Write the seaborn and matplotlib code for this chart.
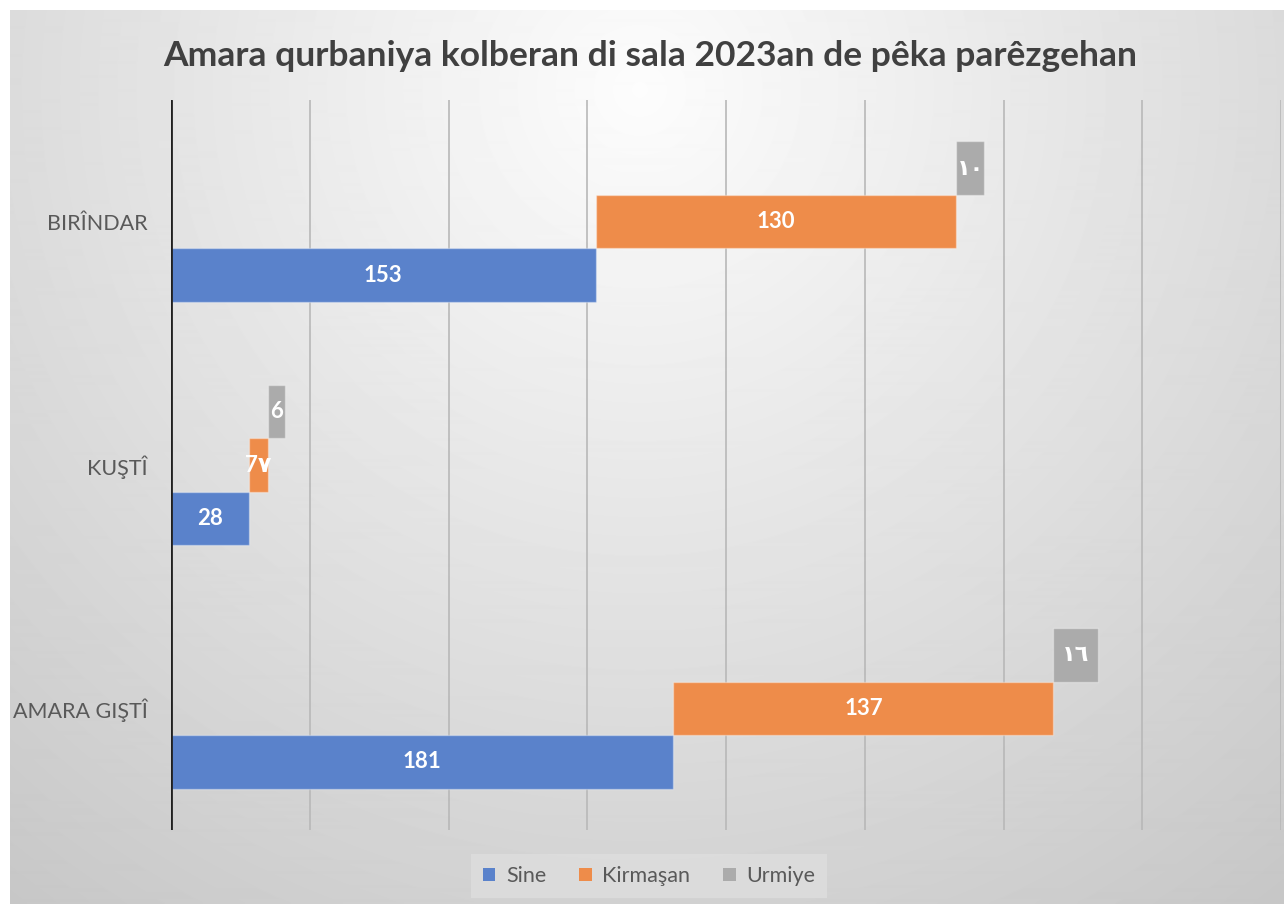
import numpy as np
import pandas as pd
import matplotlib
matplotlib.use("Agg")
import matplotlib.pyplot as plt
from matplotlib.patches import Patch
import seaborn as sns

# ---- data ----
categories = ["BIRÎNDAR", "KUŞTÎ", "AMARA GIŞTÎ"]
series_names = ["Sine", "Kirmaşan", "Urmiye"]
sine_values = [153, 28, 181]
kirmasan_values = [130, 7, 137]
urmiye_values = [10, 6, 16]
sine_labels = ["153", "28", "181"]
kirmasan_labels = ["130", "7٧", "137"]
urmiye_labels = ["١٠", "6", "١٦"]
title_text = "Amara qurbaniya kolberan di sala 2023an de pêka parêzgehan"

colors = {"Sine": "#5A82CB", "Kirmaşan": "#EE8C4A", "Urmiye": "#ABABAB"}

sns.set_theme(style="white")
plt.rcParams["font.family"] = ["Lato", "DejaVu Sans"]

W, H = 1284, 905
fig = plt.figure(figsize=(W / 100, H / 100), dpi=100, facecolor="white")

# ---- background gradient ----
bg = fig.add_axes([0, 0, 1, 1], zorder=-10)
bg.axis("off")
xx, yy = np.meshgrid(np.arange(10, W), np.arange(11, 904))
d = np.sqrt((xx - 640) ** 2 + (yy - 90) ** 2)
v = np.clip(0.99 - 0.000205 * d, 0.76, 1.0)
bg.imshow(v, cmap="gray", vmin=0, vmax=1, extent=(10, W, 904, 11), aspect="auto",
          interpolation="bilinear")
bg.set_xlim(0, W)
bg.set_ylim(H, 0)

# ---- main axes ----
ax = fig.add_axes([171 / W, 1 - 830 / H, (1281 - 171) / W, (830 - 100) / H])
ax.set_facecolor("none")

rows = []
for name, vals in zip(series_names, [sine_values, kirmasan_values, urmiye_values]):
    for c, val in zip(categories, vals):
        rows.append({"category": c, "series": name, "value": val})
df = pd.DataFrame(rows)

hue_order = ["Urmiye", "Kirmaşan", "Sine"]
sns.barplot(data=df, y="category", x="value", hue="series", hue_order=hue_order,
            order=categories, palette=colors, width=0.66, orient="h", ax=ax,
            legend=False, saturation=1, zorder=3)

value_map = {"Sine": sine_values, "Kirmaşan": kirmasan_values, "Urmiye": urmiye_values}
label_map = {"Sine": sine_labels, "Kirmaşan": kirmasan_labels, "Urmiye": urmiye_labels}
lefts = {}
cum = np.zeros(len(categories))
for name in series_names:
    lefts[name] = cum.copy()
    cum = cum + np.array(value_map[name])

for cont, name in zip(ax.containers, hue_order):
    for i, bar in enumerate(cont):
        bar.set_x(lefts[name][i])
        bar.set_edgecolor((1, 1, 1, 0.35))
        bar.set_linewidth(1)
        cx = bar.get_x() + bar.get_width() / 2
        cy = bar.get_y() + bar.get_height() / 2
        ax.text(cx, cy, label_map[name][i], ha="center", va="center", color="white",
                fontsize=16, fontweight="bold", family=["Lato", "DejaVu Sans"], zorder=5)

ax.set_xlim(0, 400)
ax.set_ylim(2.5, -0.5)
ax.set_xticks(np.arange(0, 401, 50))
ax.set_xticklabels([])
ax.grid(axis="x", color="#B8B8B8", lw=1.2, zorder=0)
ax.grid(axis="y", visible=False)
ax.axvline(0, color="#202020", lw=2, zorder=4)
for s in ax.spines.values():
    s.set_visible(False)
ax.tick_params(axis="both", length=0)
ax.tick_params(axis="y", pad=17, labelsize=15.5, labelcolor="#595959")
ax.set_xlabel("")
ax.set_ylabel("")

fig.text(650 / W, 1 - 56 / H, title_text, ha="center", va="center", fontsize=25.5,
         fontweight="bold", color="#404040")

handles = [Patch(facecolor=colors[n], edgecolor="none", label=n) for n in series_names]
leg = fig.legend(handles=handles, loc="center", bbox_to_anchor=(649 / W, 1 - 876 / H),
                 ncol=3, frameon=True, fontsize=15.5, handlelength=0.6, handleheight=0.6,
                 columnspacing=1.5, handletextpad=0.5, borderpad=0.55)
leg.get_frame().set_facecolor("#DEDEDE")
leg.get_frame().set_edgecolor("none")
leg.get_frame().set_boxstyle("square", pad=0)
for t in leg.get_texts():
    t.set_color("#595959")

fig.savefig("out.png", dpi=100, facecolor="white")
